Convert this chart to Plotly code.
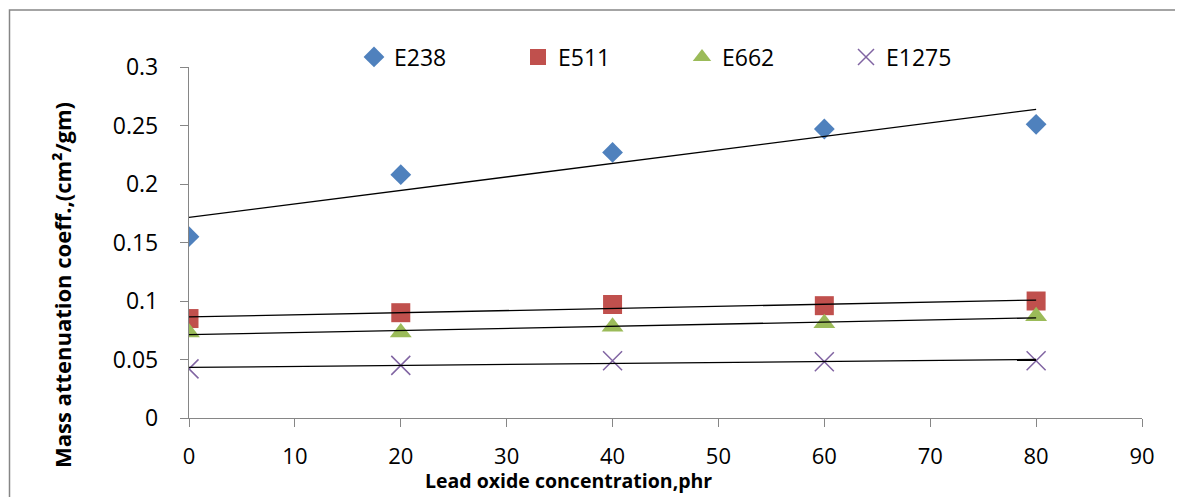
import numpy as np
import plotly.graph_objects as go

# Data
x_conc = [0, 20, 40, 60, 80]
series_names = ["E238", "E511", "E662", "E1275"]
e238 = [0.155, 0.208, 0.227, 0.247, 0.251]
e511 = [0.085, 0.090, 0.097, 0.096, 0.100]
e662 = [0.073, 0.073, 0.078, 0.081, 0.087]
e1275 = [0.042, 0.045, 0.049, 0.048, 0.049]

x_ticks = [0, 10, 20, 30, 40, 50, 60, 70, 80, 90]
y_ticks = [0, 0.05, 0.1, 0.15, 0.2, 0.25, 0.3]

FONT = "Open Sans"
OFF = 8  # page body margin
W, H = 1175, 489
L, T = 189 - OFF, 67 - OFF
R = W - (1142 - OFF)
B = H - (418 - OFF)
PW = W - L - R
PH = H - T - B


def px(xp):  # page pixel -> paper x
    return (xp - OFF - L) / PW


def py(yp):  # page pixel -> paper y
    return (H - B - (yp - OFF)) / PH


styles = [
    dict(symbol="diamond", color="#4F81BD", size=16, line=dict(width=0)),
    dict(symbol="square", color="#C0504D", size=19, line=dict(width=0)),
    dict(symbol="triangle-up", color="#9BBB59", size=19, line=dict(width=0)),
    dict(symbol="x-thin-open", color="#8064A2", size=19, line=dict(width=1.5, color="#8064A2")),
]

fig = go.Figure()
all_series = [e238, e511, e662, e1275]
for name, ys, st in zip(series_names, all_series, styles):
    fig.add_trace(go.Scatter(x=x_conc, y=ys, mode="markers", name=name, marker=st))

# linear trendlines (least squares from the data)
for ys in all_series:
    m, b = np.polyfit(x_conc, ys, 1)
    xs = [x_conc[0], x_conc[-1]]
    fig.add_trace(go.Scatter(x=xs, y=[m * v + b for v in xs], mode="lines",
                             line=dict(color="black", width=1.3),
                             showlegend=False, hoverinfo="skip"))

axis_common = dict(showgrid=False, zeroline=False, showline=True, linecolor="#868686",
                   linewidth=1.3, ticks="outside", ticklen=8, tickcolor="#868686",
                   tickwidth=1.3)

fig.update_xaxes(range=[0, 90], tickvals=x_ticks, ticklabelstandoff=10,
                 tickfont=dict(family=FONT, size=22, color="black"), **axis_common)
fig.update_yaxes(range=[0, 0.3], tickvals=y_ticks, ticklabelstandoff=17,
                 tickfont=dict(family=FONT, size=23, color="black"), **axis_common)

fig.update_layout(
    width=W, height=H,
    margin=dict(l=L, r=R, t=T, b=B),
    plot_bgcolor="white", paper_bgcolor="white",
    showlegend=True,
    legend=dict(orientation="h", x=px(374 - 20), y=py(57), xanchor="left", yanchor="middle",
                font=dict(family=FONT, size=23, color="black"),
                entrywidth=119, entrywidthmode="pixels", itemwidth=30,
                bgcolor="rgba(0,0,0,0)"),
    annotations=[
        dict(text="Lead oxide concentration,phr", xref="paper", yref="paper",
             x=px(568), y=py(496), xanchor="center", yanchor="bottom",
             showarrow=False, font=dict(family=FONT, size=19.5, color="black", weight="bold")),
        dict(text="Mass attenuation coeff.,(cm²/gm)", xref="paper", yref="paper",
             x=px(62), y=py(285), xanchor="center", yanchor="middle",
             textangle=-90, showarrow=False,
             font=dict(family=FONT, size=22, color="black", weight="bold")),
    ],
    shapes=[
        dict(type="rect", xref="paper", yref="paper",
             x0=px(9.5), x1=px(1240),
             y0=py(520), y1=py(10),
             line=dict(color="#868686", width=1.5), fillcolor="rgba(0,0,0,0)", layer="below"),
    ],
)

fig.write_html("out.html")
